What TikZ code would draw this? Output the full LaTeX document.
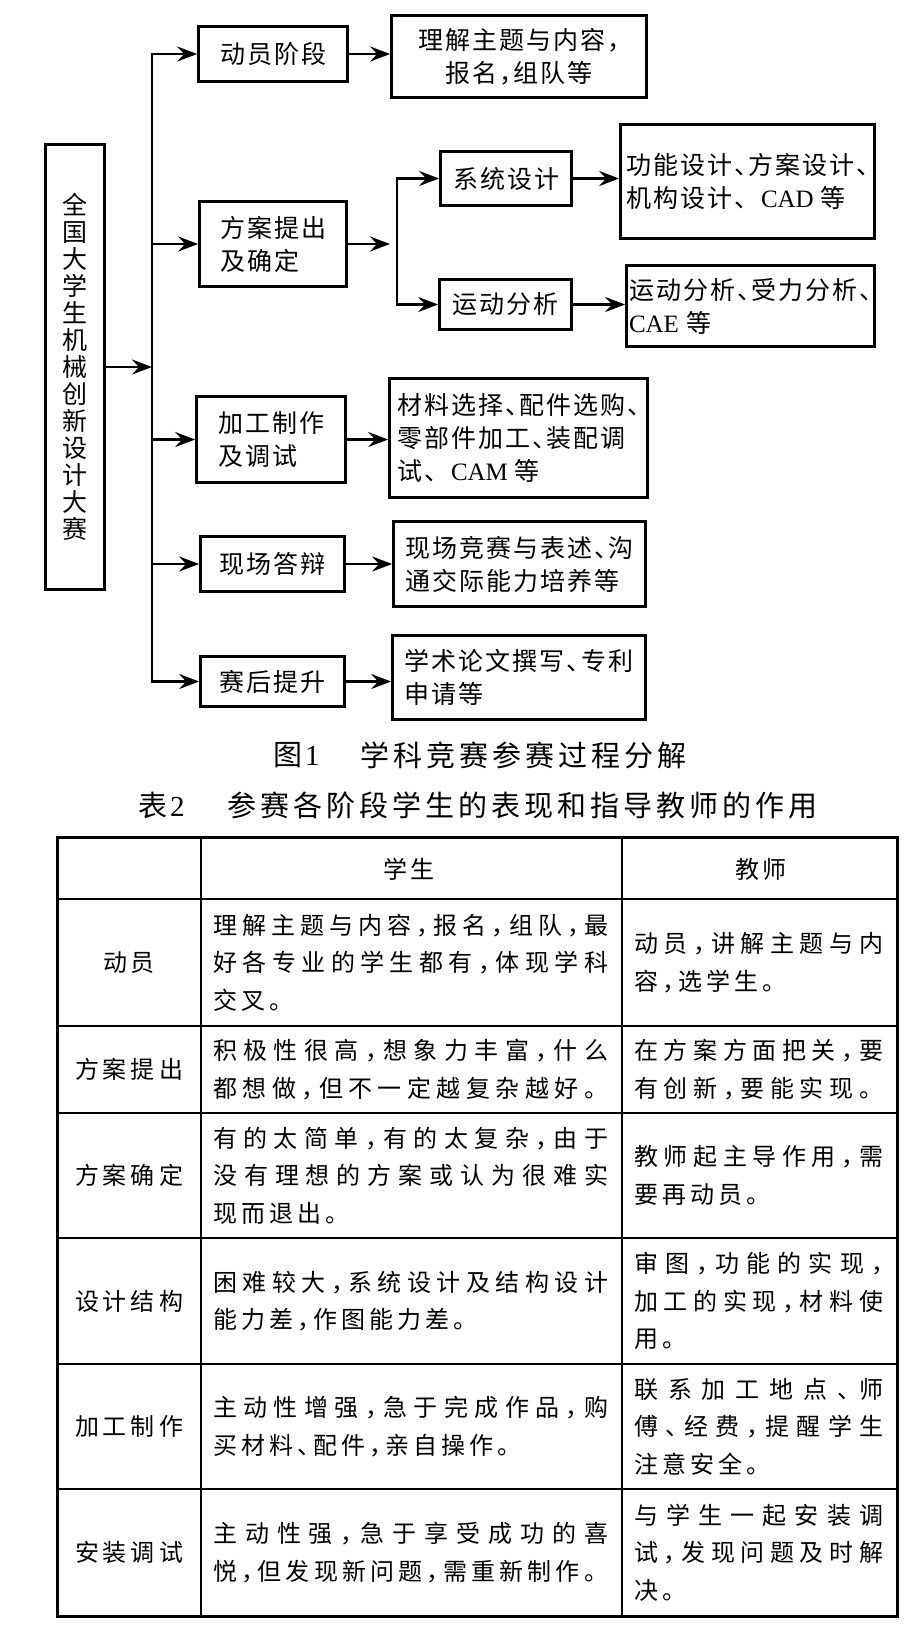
\documentclass[tikz,border=0pt]{standalone}
\usepackage{fontspec}
\setmainfont{Noto Sans CJK SC}
\newfontfamily\lat{Liberation Serif}
\usetikzlibrary{arrows.meta}
\newskip\cglue
\def\cjkchar#1{\ifx，#1\hbox to 0.5em{#1\hss}\else\ifx、#1\hbox to 0.5em{#1\hss}\else#1\fi\fi}
\def\spreadfirst#1{\cjkchar{#1}\spreadrest}
\def\spreadrest#1{\ifx\relax#1\else\hskip\cglue\cjkchar{#1}\expandafter\spreadrest\fi}
\newcommand\natl[1]{\hbox{\spreadfirst#1\relax}}
\newcommand\justl[2]{\hbox to #1{\spreadfirst#2\relax}}
\def\fwdun{、}
\def\CAD{{\lat CAD}\kern5pt}
\def\CAE{{\lat CAE}\kern5pt}
\def\CAM{{\lat CAM}\kern5pt}
\newcommand\dfont{\fontsize{25}{33}\selectfont\cglue=2pt plus 1fil\relax}
\newcommand\vfont{\fontsize{25}{27}\selectfont}
\newcommand\tfont{\fontsize{24}{37.5}\selectfont\cglue=4pt plus 1fil\relax}
\newcommand\capfont{\fontsize{29}{32}\selectfont\cglue=4pt plus 1fil\relax}
\tikzset{
  box/.style={draw, line width=2.7pt, inner sep=0pt, font=\dfont, align=left},
  arr/.style={line width=2.7pt, -{Stealth[length=20pt,width=15pt,inset=7pt]}},
  cell/.style={font=\tfont, inner sep=0pt, align=left, anchor=west},
  lbl/.style={font=\tfont, inner sep=0pt},
  captext/.style={font=\capfont, inner sep=0pt, anchor=west},
  tin/.style={line width=1.3pt},
  tout/.style={line width=3pt}
}
\begin{document}
\begin{tikzpicture}[x=1pt,y=-1pt]
\useasboundingbox[fill=white] (0,0) rectangle (918,1625);

% ---------- diagram ----------
\node[box, minimum width=59pt, minimum height=445pt, font=\vfont, align=center] (main) at (75,367)
  {全\\国\\大\\学\\生\\机\\械\\创\\新\\设\\计\\大\\赛};

\node[box, minimum width=149pt, minimum height=55pt] (A1) at (273,54) {\natl{动员阶段}};
\node[box, minimum width=255pt, minimum height=82pt, align=center] (B1) at (519,56.5)
  {\natl{理解主题与内容，}\\\natl{报名，组队等}};

\node[box, minimum width=147pt, minimum height=85pt] (A2) at (273,244)
  {\natl{方案提出}\\\natl{及确定}};
\node[box, minimum width=131pt, minimum height=54pt] (C1) at (506,178.5) {\natl{系统设计}};
\node[box, minimum width=132pt, minimum height=50pt] (C2) at (505.5,304.5) {\natl{运动分析}};
\node[box, minimum width=254pt, minimum height=114pt] (D1) at (747.5,181.5)
  {\natl{功能设计、方案设计、}\\\natl{机构设计\fwdun\CAD 等}};
\node[box, minimum width=248pt, minimum height=81pt] (D2) at (750.5,306)
  {\natl{运动分析、受力分析、}\\\natl{\CAE 等}};

\node[box, minimum width=149pt, minimum height=86pt] (A3) at (271,439.5)
  {\natl{加工制作}\\\natl{及调试}};
\node[box, minimum width=258pt, minimum height=119pt] (B3) at (518.5,438)
  {\natl{材料选择、配件选购、}\\\natl{零部件加工、装配调}\\\natl{试\fwdun\CAM 等}};

\node[box, minimum width=144pt, minimum height=55pt] (A4) at (272.5,564) {\natl{现场答辩}};
\node[box, minimum width=252pt, minimum height=85pt] (B4) at (519.5,564)
  {\natl{现场竞赛与表述、沟}\\\natl{通交际能力培养等}};

\node[box, minimum width=144pt, minimum height=50pt] (A5) at (272.5,681.5) {\natl{赛后提升}};
\node[box, minimum width=253pt, minimum height=84pt] (B5) at (519,677.5)
  {\natl{学术论文撰写、专利}\\\natl{申请等}};

\coordinate (trunk) at (152,367);
\coordinate (brin) at (390,244);
\coordinate (br) at (397,244);

\draw[arr] (main.east) -- (trunk);
\draw[arr] (trunk) |- (A1.west);
\draw[arr] (trunk) |- (A5.west);
\draw[arr] (A2.west -| trunk) -- (A2.west);
\draw[arr] (A3.west -| trunk) -- (A3.west);
\draw[arr] (A4.west -| trunk) -- (A4.west);

\draw[arr] (A1.east) -- (A1.east -| B1.west);
\draw[arr] (A2.east) -- (brin);
\draw[arr] (br) |- (C1.west);
\draw[arr] (br) |- (C2.west);
\draw[arr] (C1.east) -- (C1.east -| D1.west);
\draw[arr] (C2.east) -- (C2.east -| D2.west);
\draw[arr] (A3.east) -- (A3.east -| B3.west);
\draw[arr] (A4.east) -- (A4.east -| B4.west);
\draw[arr] (A5.east) -- (A5.east -| B5.west);

% ---------- captions ----------
\node[captext] (cap1a) at (273,755) {图\kern3pt{\lat 1}};
\node[captext] (cap1b) at (360,755) {\natl{学科竞赛参赛过程分解}};
\node[captext] (cap2a) at (138,805) {表\kern3pt{\lat 2}};
\node[captext] (cap2b) at (227,805) {\natl{参赛各阶段学生的表现和指导教师的作用}};

% ---------- table ----------
\draw[tin] (201,837) -- (201,1616);
\draw[tin] (622,837) -- (622,1616);
\foreach \yy in {899,1026,1113,1238,1364,1489}
  \draw[tin] (57,\yy) -- (897,\yy);
\draw[tout] (57,837) rectangle (897,1616);

\node[lbl] (hs) at (409,869) {\natl{学生}};
\node[lbl] (ht) at (761,869) {\natl{教师}};

% row 1
\node[lbl] (r1l) at (129,962.5) {\natl{动员}};
\node[cell] (r1s) at (213,962.5)
  {\justl{395pt}{理解主题与内容，报名，组队，最}\\\justl{395pt}{好各专业的学生都有，体现学科}\\\natl{交叉。}};
\node[cell] (r1t) at (634,962.5)
  {\justl{249pt}{动员，讲解主题与内}\\\natl{容，选学生。}};

% row 2
\node[lbl] (r2l) at (129,1069.5) {\natl{方案提出}};
\node[cell] (r2s) at (213,1069.5)
  {\justl{395pt}{积极性很高，想象力丰富，什么}\\\justl{395pt}{都想做，但不一定越复杂越好。}};
\node[cell] (r2t) at (634,1069.5)
  {\justl{249pt}{在方案方面把关，要}\\\justl{249pt}{有创新，要能实现。}};

% row 3
\node[lbl] (r3l) at (129,1175.5) {\natl{方案确定}};
\node[cell] (r3s) at (213,1175.5)
  {\justl{395pt}{有的太简单，有的太复杂，由于}\\\justl{395pt}{没有理想的方案或认为很难实}\\\natl{现而退出。}};
\node[cell] (r3t) at (634,1175.5)
  {\justl{249pt}{教师起主导作用，需}\\\natl{要再动员。}};

% row 4
\node[lbl] (r4l) at (129,1301) {\natl{设计结构}};
\node[cell] (r4s) at (213,1301)
  {\justl{395pt}{困难较大，系统设计及结构设计}\\\natl{能力差，作图能力差。}};
\node[cell] (r4t) at (634,1301)
  {\justl{249pt}{审图，功能的实现，}\\\justl{249pt}{加工的实现，材料使}\\\natl{用。}};

% row 5
\node[lbl] (r5l) at (129,1426.5) {\natl{加工制作}};
\node[cell] (r5s) at (213,1426.5)
  {\justl{395pt}{主动性增强，急于完成作品，购}\\\natl{买材料、配件，亲自操作。}};
\node[cell] (r5t) at (634,1426.5)
  {\justl{249pt}{联系加工地点、师}\\\justl{249pt}{傅、经费，提醒学生}\\\natl{注意安全。}};

% row 6
\node[lbl] (r6l) at (129,1552.5) {\natl{安装调试}};
\node[cell] (r6s) at (213,1552.5)
  {\justl{395pt}{主动性强，急于享受成功的喜}\\\justl{395pt}{悦，但发现新问题，需重新制作。}};
\node[cell] (r6t) at (634,1552.5)
  {\justl{249pt}{与学生一起安装调}\\\justl{249pt}{试，发现问题及时解}\\\natl{决。}};
\end{tikzpicture}
\end{document}
